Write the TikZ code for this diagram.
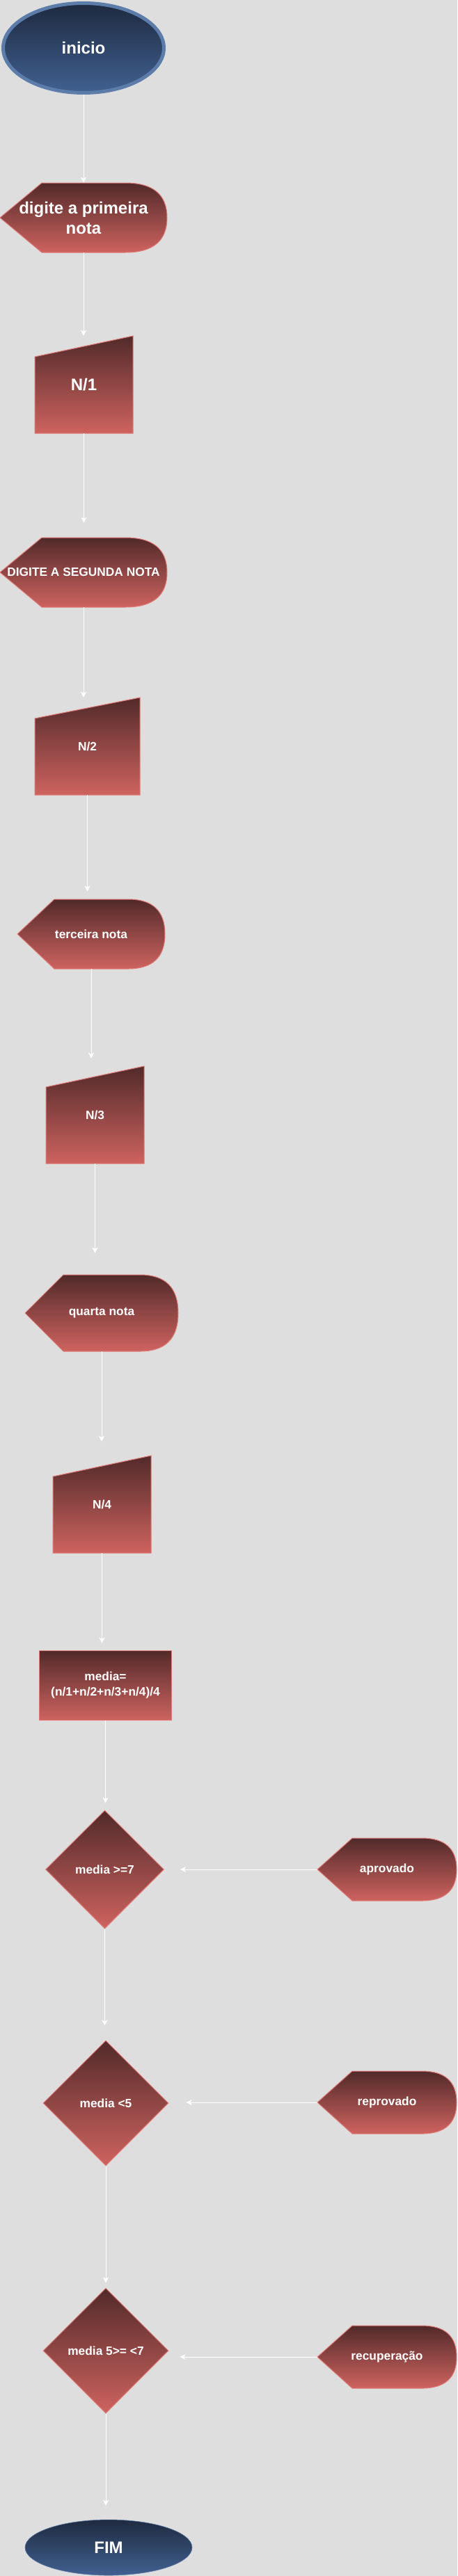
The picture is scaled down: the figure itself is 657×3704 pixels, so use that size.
\documentclass[tikz,border=0pt]{standalone}
\usepackage{fontspec}
\setmainfont{Liberation Sans}
\usetikzlibrary{shapes.geometric,arrows.meta}

\definecolor{fundo}{RGB}{222,222,222}
\definecolor{vermtopo}{RGB}{82,42,42}
\definecolor{vermbase}{RGB}{206,99,95}
\definecolor{vermlinha}{RGB}{224,122,118}
\definecolor{azultopo}{RGB}{30,42,64}
\definecolor{azulbase}{RGB}{65,97,145}
\definecolor{azullinha}{RGB}{92,124,170}

\def\upx{0.75pt}

\tikzset{
  rotulo/.style={inner sep=0pt, text=white, align=center,
    font=\bfseries\fontsize{13}{16.5}\selectfont},
  grande/.style={font=\bfseries\fontsize{18}{21.75}\selectfont},
  vermelho/.style={top color=vermtopo, bottom color=vermbase, draw=vermlinha, line width=0.75pt},
  azul/.style={top color=azultopo, bottom color=azulbase, draw=azullinha},
  terminal/.style={rotulo, grande, azul, ellipse},
  decisao/.style={rotulo, vermelho, diamond},
  seta/.style={draw=white, line width=0.75pt, -{Stealth[length=6pt,width=6pt,inset=1.5pt]}},
}

% tela: [estilo]{nome}{x}{y}{largura}{altura}{texto}
\newcommand{\tela}[7][]{
  \path[vermelho] (#3-#5/2,#4) -- (#3-#5/4,#4-#6/2) -- (#3+#5/4,#4-#6/2)
    .. controls (#3+5*#5/12,#4-#6/2) and (#3+#5/2,#4-#6/3) .. (#3+#5/2,#4)
    .. controls (#3+#5/2,#4+#6/3) and (#3+5*#5/12,#4+#6/2) .. (#3+#5/4,#4+#6/2)
    -- (#3-#5/4,#4+#6/2) -- cycle;
  \node[rotulo, #1, minimum width=#5*\upx, minimum height=#6*\upx] (#2) at (#3,#4) {#7};
}

% entrada manual: [estilo]{nome}{x}{y}{largura}{altura}{texto}
\newcommand{\entrada}[7][]{
  \path[vermelho] (#3-#5/2,#4-#6/2+30) -- (#3+#5/2,#4-#6/2) -- (#3+#5/2,#4+#6/2)
    -- (#3-#5/2,#4+#6/2) -- cycle;
  \node[rotulo, #1, minimum width=#5*\upx, minimum height=#6*\upx] (#2) at (#3,#4) {#7};
}

\begin{document}
\begin{tikzpicture}[x=0.75pt, y=-0.75pt]

\useasboundingbox (0,0) rectangle (657,3704);
\fill[fundo] (0,0) rectangle (657,3704);

\node[terminal, line width=3.75pt, minimum width=231*\upx, minimum height=129*\upx] (ini) at (120,69) {inicio};

\tela[grande]{prim}{120}{313}{240}{100}{digite a primeira\\nota}
\entrada[grande]{n1}{120.5}{553}{141}{140}{N/1}
\tela{seg}{120}{823}{240}{100}{DIGITE A SEGUNDA NOTA}
\entrada{n2}{125.5}{1073}{151}{140}{N/2}
\tela{ter}{131}{1343}{212}{100}{terceira nota}
\entrada{n3}{136.5}{1603}{141}{140}{N/3}
\tela{qua}{146}{1888}{220}{110}{quarta nota}
\entrada{n4}{146.5}{2163}{141}{140}{N/4}

\node[rotulo, vermelho, minimum width=190*\upx, minimum height=100*\upx] (med) at (151.5,2423) {media=\\(n/1+n/2+n/3+n/4)/4};

\node[decisao, minimum width=170*\upx, minimum height=170*\upx] (d1) at (150.5,2688) {media >=7};
\node[decisao, minimum width=180*\upx, minimum height=180*\upx] (d2) at (152,3024) {media <5};
\node[decisao, minimum width=180*\upx, minimum height=180*\upx] (d3) at (152,3380) {media 5>= <7};

\tela{ap}{556}{2688}{200}{90}{aprovado}
\tela{rep}{556}{3023}{200}{90}{reprovado}
\tela{rec}{556}{3389}{200}{90}{recuperação}

\node[terminal, minimum width=240*\upx, minimum height=80*\upx] (fim) at (156,3663) {FIM};

\foreach \a/\b/\g in {ini/prim/0, prim/n1/0, n1/seg/21, seg/n2/0, n2/ter/11, ter/n3/11,
    n3/qua/31, qua/n4/20, n4/med/10, med/d1/10, d1/d2/21, d2/d3/7, d3/fim/20}
{
    \draw[seta, shorten >=\g*\upx] (\a.south) -- (\a.south |- \b.north);
}

\draw[seta, shorten >=23*\upx] (ap.west) -- (ap.west -| d1.east);
\draw[seta, shorten >=25*\upx] (rep.west) -- (rep.west -| d2.east);
\draw[seta, shorten >=16*\upx] (rec.west) -- (rec.west -| d3.east);

\end{tikzpicture}
\end{document}
